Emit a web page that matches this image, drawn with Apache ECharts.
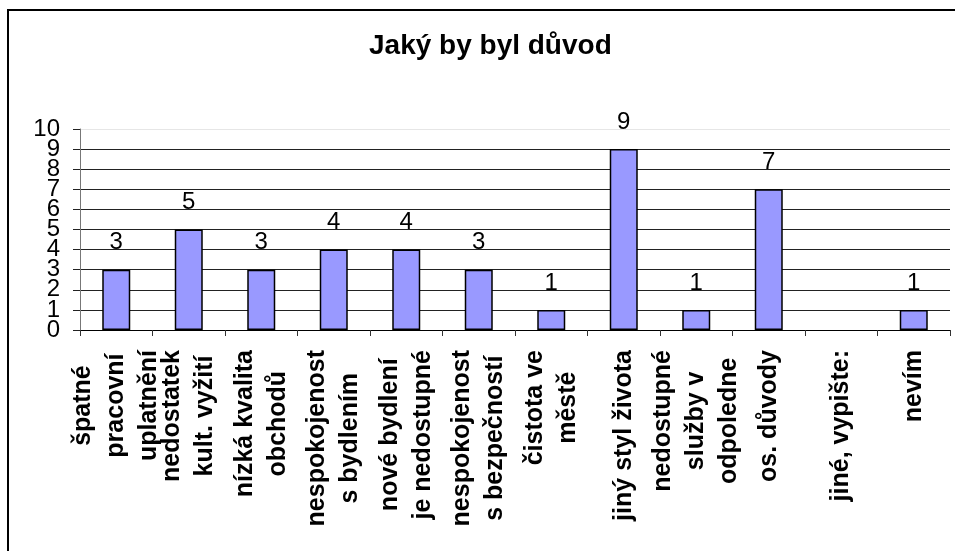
<!DOCTYPE html>
<html><head><meta charset="utf-8">
<script src="https://cdn.jsdelivr.net/npm/echarts@6/dist/echarts.min.js"></script>
<style>html,body{margin:0;padding:0;background:#fff}#c{width:955px;height:551px}</style>
</head><body><div id="c"></div>
<script>
const categories = [
  "špatné\npracovní\nuplatnění",
  "nedostatek\nkult. vyžití",
  "nízká kvalita\nobchodů",
  "nespokojenost\ns bydlením",
  "nové bydlení\nje nedostupné",
  "nespokojenost\ns bezpečností",
  "čistota ve\nměstě",
  "jiný styl života",
  "nedostupné\nslužby v\nodpoledne",
  "os. důvody",
  "jiné, vypište:",
  "nevím"
];
const values = [3, 5, 3, 4, 4, 3, 1, 9, 1, 7, 0, 1];
const yTicks = [0,1,2,3,4,5,6,7,8,9,10];
const titleText = "Jaký by byl důvod";

const font = "'Liberation Sans', Arial, sans-serif";
const gridColors = yTicks.map((t,i)=> i === yTicks.length-1 ? '#e6e6e6' : '#222');
const chart = echarts.init(document.getElementById('c'));
chart.setOption({
  backgroundColor: '#fff',
  animation: false,
  title: {
    text: titleText, left: 364, top: 27,
    textStyle: {fontFamily: font, fontSize: 28, fontWeight: 'bold', color: '#000'}
  },
  graphic: [{
    type: 'rect', shape: {x: 8, y: 10, width: 1000, height: 600},
    style: {fill: 'none', stroke: '#000', lineWidth: 2}, silent: true
  }],
  grid: {left: 80, right: 5, top: 129, bottom: 221, containLabel: false, outerBoundsMode: 'none'},
  xAxis: {
    type: 'category', data: categories,
    axisLine: {lineStyle: {color: '#000', width: 1}},
    axisTick: {show: true, length: 6, lineStyle: {color: '#333'}},
    axisLabel: {
      interval: 0, rotate: 90, align: 'right', verticalAlign: 'middle',
      margin: 20,
      formatter: v => v.split('\n').map(s => '{c|' + s + '}').join('\n'),
      rich: {c: {fontFamily: font, fontSize: 25, fontWeight: 'bold', color: '#000',
                 lineHeight: 33, align: 'center'}}
    }
  },
  yAxis: [{
    type: 'value', min: yTicks[0], max: yTicks[yTicks.length-1], interval: 1,
    axisLine: {show: true, lineStyle: {color: '#777', width: 1}},
    axisTick: {show: true, length: 7, lineStyle: {color: '#222'}},
    axisLabel: {show: false},
    splitLine: {show: true, lineStyle: {color: gridColors, width: 1}}
  }, {
    type: 'category', data: yTicks.map(String), boundaryGap: false, position: 'left',
    axisLine: {show: false}, axisTick: {show: false}, splitLine: {show: false},
    axisLabel: {interval: 0, margin: 20, fontFamily: font, fontSize: 24, color: '#000'}
  }],
  series: [{
    type: 'bar', barWidth: 28, yAxisIndex: 0,
    data: values.map(v => ({value: v, itemStyle: {borderWidth: v === 0 ? 0 : 1.5}})),
    itemStyle: {color: '#9999ff', borderColor: '#000', borderWidth: 1.5},
    label: {
      show: true, position: 'top', distance: 15,
      fontFamily: font, fontSize: 24, color: '#000',
      formatter: p => p.value === 0 ? '' : String(p.value)
    }
  }]
});
</script></body></html>
